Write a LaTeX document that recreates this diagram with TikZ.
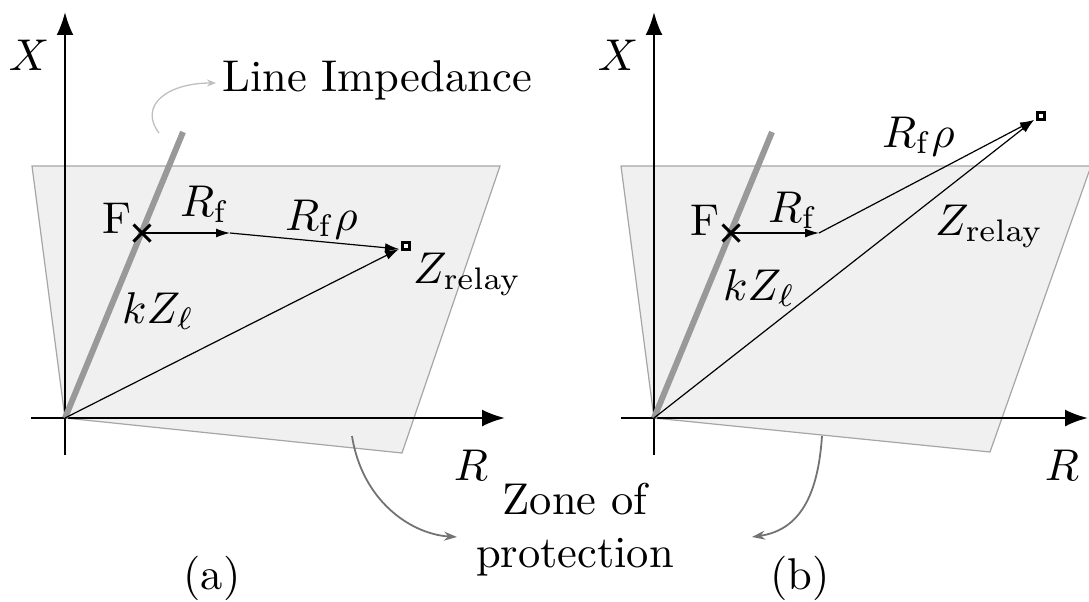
\documentclass[tikz,border=0pt]{standalone}
\usetikzlibrary{arrows.meta,shapes.misc}
\newcommand{\bigtxt}[1]{\scalebox{4.45}{#1}}
\begin{document}
\begin{tikzpicture}[x=1pt,y=-1pt,
  lbl/.style={font=\fontsize{10}{12}\selectfont, inner sep=0pt, anchor=base west},
  axis/.style={line width=2.4pt, -{Latex[length=23pt,width=17pt]}},
  zone/.style={fill=black!6, draw=black!35, line width=1.2pt},
  imp/.style={line width=6pt, draw=black!40},
  vec/.style={line width=1.2pt, -{Latex[length=14pt,width=9pt]}},
  fault/.style={cross out, draw, line width=3pt, minimum size=14pt, inner sep=0pt},
  marker/.style={draw, line width=3pt, fill=white, minimum size=7pt, inner sep=0pt},
  hint/.style={draw=black!25, line width=1.3pt, -{Stealth[length=9pt,width=7pt]}},
  zonearrow/.style={draw=black!55, line width=1.8pt, -{Stealth[length=13pt,width=9pt]}},
]
\useasboundingbox (0,0) rectangle (1089,602);

% ---------------- panel (a) ----------------
\coordinate (Oa) at (65,418);
\filldraw[zone] (32,166) -- (500,166) -- (402,453) -- (Oa) -- cycle;
\coordinate (XaS) at (65,455); \coordinate (XaE) at (65,12);
\coordinate (RaS) at (31,418); \coordinate (RaE) at (505,418);
\draw[axis] (RaS) -- (RaE);
\draw[axis] (XaS) -- (XaE);
\node[lbl, anchor=center] (Xa) at (29,55) {\bigtxt{$X$}};
\node[lbl, anchor=center] (Ra) at (471,465) {\bigtxt{$R$}};
\coordinate (La) at (183,132);
\draw[imp] (Oa) -- (La);
\coordinate (Pa) at (230,233);
\coordinate (Ta) at (399,249);
\draw[vec] (Oa) -- (Ta);
\node[fault] (Fa) at (142,233) {};
\draw[vec] (Fa.center) -- (Pa);
\draw[vec] (Pa) -- (Ta);
\node[marker] (Ma) at (406,246) {};
\node[lbl] (Fla) at (102,233) {\bigtxt{F}};
\node[lbl] (Rfa) at (180,216) {\bigtxt{$R_{\mathrm{f}}$}};
\node[lbl] (Rra) at (285,230) {\bigtxt{$R_{\mathrm{f}}\rho$}};
\node[lbl] (Zra) at (413,283) {\bigtxt{$Z_{\mathrm{relay}}$}};
\node[lbl] (kZa) at (122,323) {\bigtxt{$kZ_{\ell}$}};
\node[lbl] (LI) at (222,92) {\bigtxt{Line Impedance}};
\coordinate (LIs) at (159,133);
\coordinate (LIt) at (216,83);
\draw[hint] (LIs) .. controls (138,105) and (168,83) .. (LIt);
\node[lbl, anchor=center] (capA) at (212,578) {\bigtxt{(a)}};

% ---------------- panel (b) ----------------
\coordinate (Ob) at (654,418);
\filldraw[zone] (621,166) -- (1091,166) -- (990,452) -- (Ob) -- cycle;
\coordinate (XbS) at (654,455); \coordinate (XbE) at (654,12);
\coordinate (RbS) at (621,418); \coordinate (RbE) at (1088,418);
\draw[axis] (RbS) -- (RbE);
\draw[axis] (XbS) -- (XbE);
\node[lbl, anchor=center] (Xb) at (618,55) {\bigtxt{$X$}};
\node[lbl, anchor=center] (Rb) at (1062,465) {\bigtxt{$R$}};
\coordinate (Lb) at (772,132);
\draw[imp] (Ob) -- (Lb);
\coordinate (Pb) at (819,233);
\coordinate (Tb) at (1034,120);
\draw[vec] (Ob) -- (Tb);
\node[fault] (Fb) at (731,233) {};
\draw[vec] (Fb.center) -- (Pb);
\draw[vec] (Pb) -- (Tb);
\node[marker] (Mb) at (1041,116) {};
\node[lbl] (Flb) at (690,235) {\bigtxt{F}};
\node[lbl] (Rfb) at (768,222) {\bigtxt{$R_{\mathrm{f}}$}};
\node[lbl] (Rrb) at (882,147) {\bigtxt{$R_{\mathrm{f}}\rho$}};
\node[lbl] (Zrb) at (935,235) {\bigtxt{$Z_{\mathrm{relay}}$}};
\node[lbl] (kZb) at (723,300) {\bigtxt{$kZ_{\ell}$}};
\node[lbl, anchor=center] (capB) at (800,578) {\bigtxt{(b)}};

% ---------------- zone of protection ----------------
\node[lbl, anchor=base] (ZoP) at (575,514)
  {\bigtxt{\begin{tabular}[t]{@{}c@{}}Zone of\\protection\end{tabular}}};
\coordinate (ZaS) at (352,436); \coordinate (ZaE) at (457,537);
\draw[zonearrow] (ZaS) .. controls (362,500) and (410,534) .. (ZaE);
\coordinate (ZbS) at (822,436); \coordinate (ZbE) at (752,537);
\draw[zonearrow] (ZbS) .. controls (818,495) and (800,530) .. (ZbE);
\end{tikzpicture}
\end{document}
